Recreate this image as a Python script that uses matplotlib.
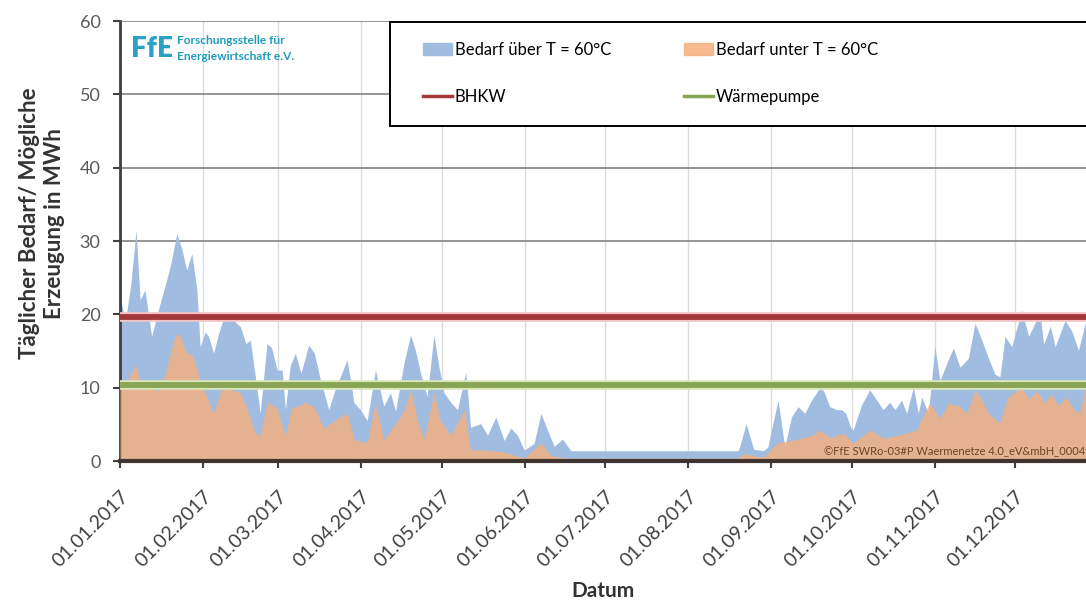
import matplotlib
matplotlib.use("Agg")
import matplotlib.pyplot as plt
import matplotlib.dates as mdates
from matplotlib.patches import Patch, Rectangle
from matplotlib.lines import Line2D
import pandas as pd

plt.rcParams['font.family'] = ['Lato', 'DejaVu Sans']

# Tagesnummer (ab 01.01.2017) und Gesamtbedarf in MWh (blaue Fläche)
tage_gesamt = [0, 2, 4, 6, 7.5, 9.3, 11.8, 14.3, 17.4, 19, 21.2, 23, 24.9, 26.8, 28.7, 29.9,
               31.8, 33, 34.9, 36.8, 39.3, 41.5, 44.9, 47, 48.6, 50.5, 52.3, 54.8, 56.5, 58.6,
               60.5, 61.7, 63.5, 65.4, 67.5, 70.4, 72.5, 74.8, 77.9, 80, 82.2, 84.7, 86.5, 87.2,
               89.7, 92.2, 95.3, 98.4, 100.9, 102.8, 105.9, 108.4, 110.3, 112.1, 114.6, 117.1,
               119, 120.9, 123.4, 125.9, 129, 130.8, 134.6, 137.1, 140.2, 143.3, 145.8, 148.3,
               150.8, 154.5, 157, 159.5, 162, 165.1, 168.2, 179.4, 200, 215, 230, 230.8, 233.6,
               236.4, 240, 241.7, 243.5, 245.5, 248, 250.5, 253, 255.5, 258, 260.9, 262.5,
               264.8, 267.5, 269.2, 270.8, 272.6, 273.5, 276.6, 279.7, 282.9, 284.7, 287.2,
               289.1, 291.6, 293.5, 296, 297.8, 299.1, 301.6, 304, 305.9, 308.4, 310.9, 313.4,
               316.5, 319, 321.5, 324, 326.5, 328.3, 330.2, 332.7, 336.4, 339, 340.8, 343.3,
               344.6, 347.1, 348.9, 352.6, 355.1, 357.6, 360.1, 363]
bedarf_gesamt = [22.5, 19, 24, 31.5, 22, 23.3, 17, 20.6, 24.7, 27, 31, 29, 26, 28.3, 23.3, 15.6,
                 17.6, 17, 14.7, 17.4, 20.3, 19.5, 18.3, 16, 16.5, 11.5, 6.5, 16, 15.5, 12.4,
                 12.4, 7, 13, 14.7, 12, 15.8, 14.7, 11, 7, 9.5, 11.5, 13.8, 10, 8,
                 7, 5.5, 12.4, 7.5, 9.3, 6.8, 13.3, 17.2, 15, 12, 8.8, 17.2,
                 12.8, 9.3, 8, 7, 12.1, 4.6, 5.1, 3.5, 6, 2.8, 4.5, 3.5,
                 1.5, 2.4, 6.5, 4.2, 2, 3, 1.4, 1.4, 1.4, 1.4, 1.4, 1.5, 5.1,
                 1.6, 1.4, 1.9, 5, 8.3, 1.9, 6, 7.4, 6.5, 8.3, 9.9, 9.6,
                 7.4, 7, 7, 6.5, 4.6, 4.2, 7.6, 9.7, 8, 7, 8,
                 7, 8.3, 6.5, 10.1, 6.5, 8.7, 6.5, 15.6, 11, 13.3, 15.4, 12.8,
                 14, 18.8, 16.5, 14, 11.8, 11.5, 17, 15.6, 20.6, 17, 18.4, 20.1,
                 15.9, 18.4, 15.6, 19.2, 17.7, 15.1, 18.8, 18]

# Bedarf unter T = 60°C (orange Fläche)
tage_unter = [0, 2, 4, 6, 8, 11, 14, 17, 19, 20.5, 22, 24.9, 27, 28.7, 29.9, 31.8, 34.9, 37.5,
              39, 41, 44.9, 47, 50.5, 52.3, 55, 58.6, 61.7, 64, 69.5, 72.5, 76, 82, 84.7, 87.5,
              92.2, 95.3, 98.4, 101.5, 105.9, 108.4, 111, 113.5, 117.1, 119.5, 123.4, 128.5,
              130.8, 137, 143.5, 150.8, 157, 160.5, 166, 200, 230, 233, 240, 245.5, 252, 258,
              260.9, 265, 270, 273.5, 279.7, 285, 291, 297, 302, 306, 309, 313, 316, 319, 322,
              324, 328.3, 331, 336.4, 339, 342, 345, 347.5, 350, 353, 356, 358, 360, 363]
bedarf_unter = [11, 10, 12, 13, 10, 10.5, 9.5, 12, 15, 17, 17.4, 14.7, 14.5, 12.5, 11, 9.3, 6.5, 9.5,
                10, 9.8, 9.3, 7.5, 3.8, 3.5, 8, 7.2, 3.5, 7.2, 8, 7.3, 4.5, 6, 6.5, 2.9,
                2.5, 7.9, 2.9, 4.5, 6.8, 9.7, 5.5, 3, 9.3, 5.5, 3.5, 7,
                1.5, 1.5, 1.2, 0.4, 2.5, 0.8, 0.4, 0.4, 0.4, 1.0, 0.5, 2.5, 2.9, 3.5,
                4.2, 3.2, 3.8, 2.4, 4.2, 3.1, 3.6, 4.2, 7.9, 5.8, 7.9, 7.5, 6.5, 9.7, 8,
                6.5, 5.2, 8.6, 10.1, 8.5, 9.5, 8, 9.2, 7.6, 8.7, 7, 6.5, 9.7, 9]

bhkw = 19.7
waermepumpe = 10.4
monate = pd.date_range('2017-01-01', '2017-12-01', freq='MS')

farbe_ueber = '#a0bce1'
farbe_unter = '#f6b07c'
farbe_bhkw = '#a3383d'
farbe_wp = '#88a455'


def to_dates(tage):
    return pd.Timestamp('2017-01-01') + pd.to_timedelta(tage, unit='D')


fig = plt.figure(figsize=(10.86, 6.02), dpi=100)
ax = fig.add_axes([0.1105, 0.2342, 0.8895, 0.7309])

ax.fill_between(to_dates(tage_gesamt), 0, bedarf_gesamt, color=farbe_ueber, lw=0, zorder=2)
ax.fill_between(to_dates(tage_unter), 0, bedarf_unter, color=farbe_unter, alpha=0.8, lw=0, zorder=3)
ax.axhline(bhkw, color='#f2c4c4', lw=7, zorder=4)
ax.axhline(bhkw, color=farbe_bhkw, lw=4.2, zorder=4)
ax.axhline(waermepumpe, color='#d8e6b8', lw=7, zorder=4)
ax.axhline(waermepumpe, color=farbe_wp, lw=4.2, zorder=4)

ax.set_ylim(0, 60)
ax.set_yticks(range(0, 61, 10))
ax.set_xlim(pd.Timestamp('2017-01-01'), pd.Timestamp('2017-01-01') + pd.Timedelta(days=360.4))
ax.set_xticks(monate)
ax.xaxis.set_major_formatter(mdates.DateFormatter('%d.%m.%Y'))

ax.grid(axis='y', color='#8c8c8c', lw=1.3, zorder=0)
ax.grid(axis='x', color='#dcdcdc', lw=1, zorder=0)
ax.set_axisbelow(True)
for s in ['top', 'right']:
    ax.spines[s].set_visible(False)
ax.spines['left'].set_color('#404040')
ax.spines['left'].set_linewidth(2)
ax.spines['bottom'].set_color('#403530')
ax.spines['bottom'].set_linewidth(3)
ax.spines['bottom'].set_zorder(5)

ax.tick_params(axis='y', labelsize=13, labelcolor='#595959', length=5, width=1.5,
               color='#404040', pad=9)
ax.tick_params(axis='x', labelsize=14, labelcolor='#404040', length=5, width=1.5,
               color='#404040', pad=14)
for lbl in ax.get_xticklabels():
    lbl.set_rotation(45)
    lbl.set_ha('right')
    lbl.set_rotation_mode('anchor')

ax.set_ylabel('Täglicher Bedarf/ Mögliche\nErzeugung in MWh', fontsize=16,
              fontweight='bold', color='#333333', linespacing=1.25)
ax.yaxis.set_label_coords(-0.057, 0.54)
ax.set_xlabel('Datum', fontsize=15, fontweight='bold', color='#333333', labelpad=8)

# Legende: Reihenfolge so, dass Zeile 1 die Flächen und Zeile 2 die Linien zeigt
handles = [Patch(color=farbe_ueber), Line2D([], [], color=farbe_bhkw, lw=2.5),
           Patch(color=farbe_unter, alpha=0.85), Line2D([], [], color=farbe_wp, lw=2.5)]
labels = ['Bedarf über T = 60°C', 'BHKW', 'Bedarf unter T = 60°C', 'Wärmepumpe']
leg = ax.legend(handles, labels, loc='upper left', bbox_to_anchor=(423 / 1086, 1 - 42 / 602),
                bbox_transform=fig.transFigure, ncol=2, fontsize=12, frameon=False,
                labelspacing=1.85, borderpad=0, handlelength=1.75, handletextpad=0.15,
                columnspacing=4.4, borderaxespad=0)
leg.set_zorder(10)
ax.add_patch(Rectangle((390 / 1086, 1 - 126 / 602), 720 / 1086, 104 / 602,
                       transform=fig.transFigure, facecolor='white', edgecolor='black',
                       lw=1.4, zorder=9, clip_on=False))

# FfE Logo
fig.text(131 / 1086, 1 - 49 / 602, 'FfE', fontsize=20, fontweight='heavy', color='#2aa2c6',
         va='center', ha='left')
fig.text(177 / 1086, 1 - 40 / 602, 'Forschungsstelle für', fontsize=8.6,
         color='#1e9bbd', va='center', ha='left', fontweight='bold')
fig.text(177 / 1086, 1 - 57 / 602, 'Energiewirtschaft e.V.', fontsize=8.6,
         color='#1e9bbd', va='center', ha='left', fontweight='bold')

fig.text(1085 / 1086, 1 - 451 / 602, '©FfE SWRo-03#P Waermenetze 4.0_eV&mbH_0004',
         fontsize=8, color='#6b4426', ha='right', va='center', zorder=10)

fig.savefig('out.png', dpi=100)
